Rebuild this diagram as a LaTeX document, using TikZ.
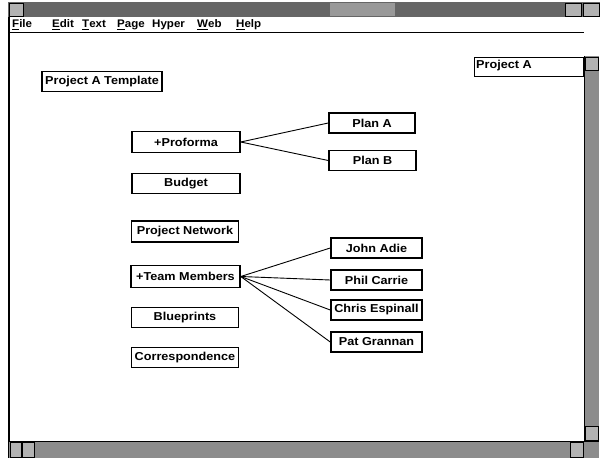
\documentclass[tikz,border=0pt]{standalone}
\usepackage{fontspec}
\setmainfont{Liberation Sans}
\usetikzlibrary{patterns}

\begin{document}
\begin{tikzpicture}[x=1pt,y=-1pt,
  boxfont/.style={font=\fontsize{11.5}{12}\selectfont\bfseries\addfontfeature{FakeStretch=1.1}},
  item/.style={draw, line width=1.5pt, fill=white, inner sep=0pt,
    minimum height=20pt, boxfont},
  link/.style={line width=0.9pt},
  menu/.style={anchor=west, inner sep=0pt,
    font=\fontsize{11}{12}\selectfont\bfseries\addfontfeature{FakeStretch=1.05}},
  dither/.style={fill=black!45},
  darkdither/.style={fill=black!60},
  btn/.style={draw, line width=0.8pt, fill=black!30}
]
% canvas
\fill[white] (0,0) rectangle (600,460);
\useasboundingbox (0,0) rectangle (600,460);

% title bar
\fill[darkdither] (8,2) rectangle (600,17);
\draw[btn] (9,3) rectangle (23,16);
\fill[black!40] (330,3) rectangle (395,16);
\draw[btn] (565,3) rectangle (581,16);
\draw[btn] (583,3) rectangle (599,16);

% window frame and menu bar
\draw[line width=1.5pt] (9,17) -- (9,458);
\draw[line width=1.2pt] (9,32.5) -- (584,32.5);
\node[menu] (mfile) at (12,25) {\underline{F}ile};
\node[menu] (medit) at (52,25) {\underline{E}dit};
\node[menu] (mtext) at (82,25) {\underline{T}ext};
\node[menu] (mpage) at (117,25) {\underline{P}age};
\node[menu] (mhyper) at (152,25) {Hyper};
\node[menu] (mweb) at (197,25) {\underline{W}eb};
\node[menu] (mhelp) at (236,25) {\underline{H}elp};

% right scrollbar
\fill[dither] (584,56) rectangle (599,441);
\draw[line width=1pt] (584,56) -- (584,441);
\draw[btn] (585,57) rectangle (598,70);
\draw[btn] (585,426) rectangle (598,440);

% bottom scrollbar
\fill[dither] (9,441) rectangle (599,458);
\draw[line width=1pt] (9,441) -- (599,441);
\draw[btn] (10,442) rectangle (21,457);
\draw[btn] (22,442) rectangle (34,457);
\draw[btn] (570,442) rectangle (583,457);

% page name field
\node[draw, line width=1pt, fill=white, anchor=north west, minimum width=109pt,
  minimum height=19pt, inner sep=0pt] (page) at (474,57) {};
\node[anchor=west, inner sep=0pt, boxfont] (pagename) at (476,66) {Project A};

% topic boxes
\node[item, minimum width=120pt] (tmpl) at (102,81.5) {Project A Template};
\node[item, minimum width=108pt, minimum height=21pt] (pro) at (186,142) {+Proforma};
\node[item, minimum width=108pt] (bud) at (186,183.5) {Budget};
\node[item, minimum width=107pt, minimum height=21pt] (net) at (185,231.5) {Project Network};
\node[item, minimum width=109pt, minimum height=22pt] (team) at (185.5,276.5) {+Team Members};
\node[item, minimum width=107pt] (blue) at (185,317.5) {Blueprints};
\node[item, minimum width=107pt] (corr) at (185,357.5) {Correspondence};

\node[item, minimum width=86pt] (pa) at (372,123) {Plan A};
\node[item, minimum width=87pt] (pb) at (372.5,160.5) {Plan B};

\node[item, minimum width=91pt] (john) at (376.5,248) {John Adie};
\node[item, minimum width=91pt] (phil) at (376.5,280) {Phil Carrie};
\node[item, minimum width=91pt] (chris) at (376.5,310) {Chris Espinall};
\node[item, minimum width=91pt] (pat) at (376.5,342) {Pat Grannan};

% links
\draw[link] (pro.east) -- (pa.west);
\draw[link] (pro.east) -- (pb.west);
\draw[link] (team.east) -- (john.west);
\draw[link] (team.east) -- (phil.west);
\draw[link] (team.east) -- (chris.west);
\draw[link] (team.east) -- (pat.west);
\end{tikzpicture}
\end{document}
